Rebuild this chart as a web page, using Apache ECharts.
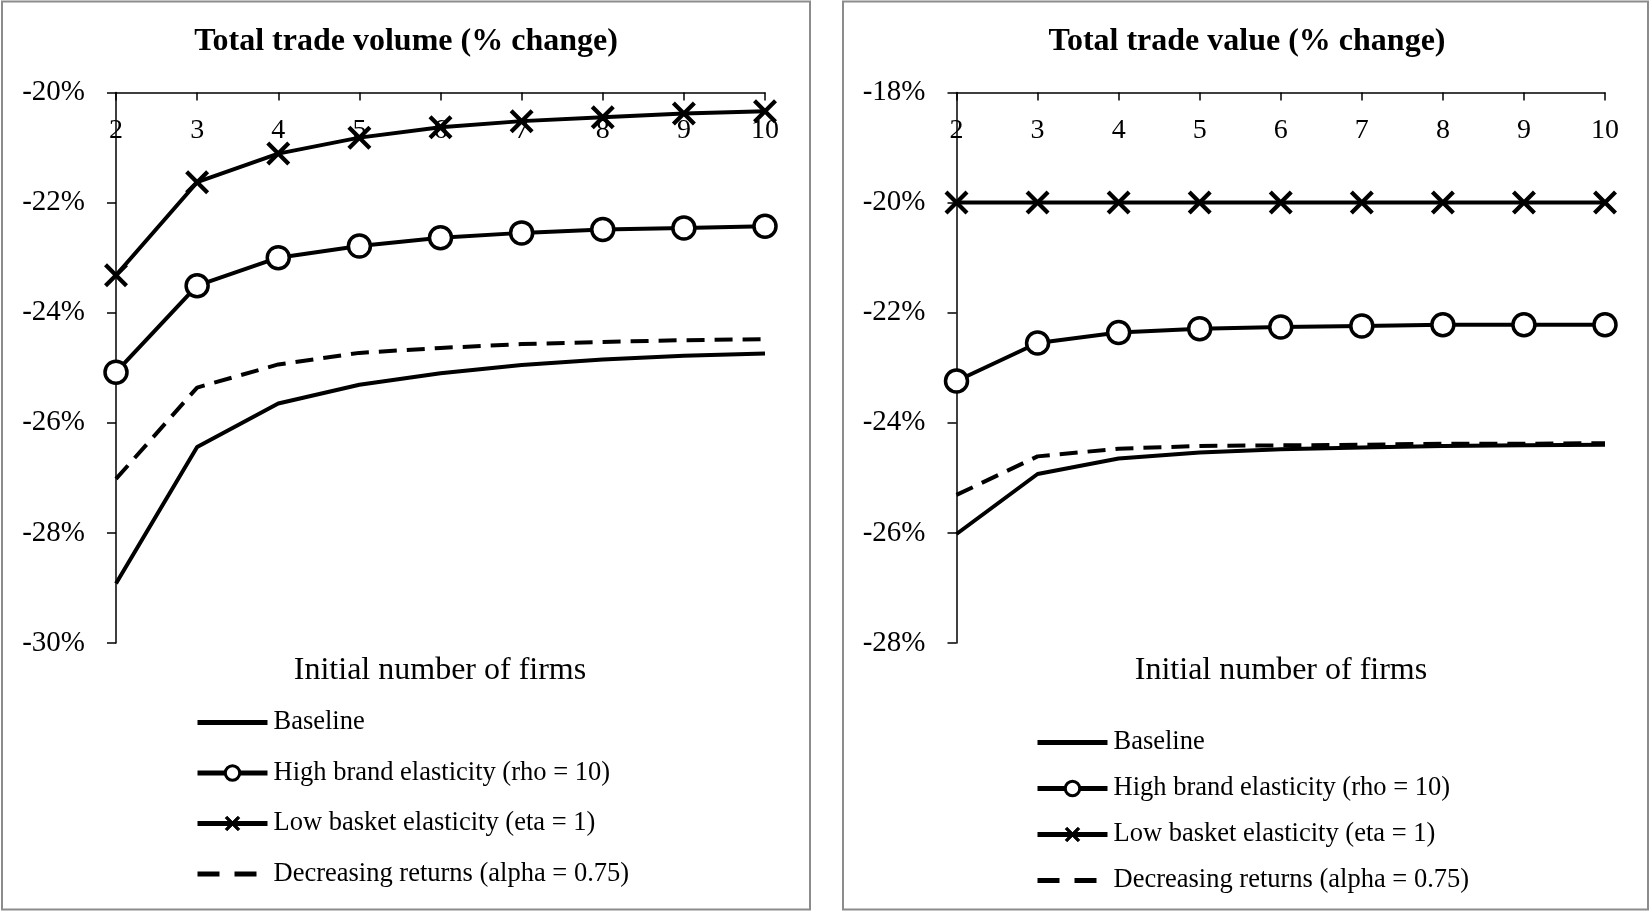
<!DOCTYPE html>
<html>
<head>
<meta charset="utf-8">
<title>Total trade volume / value (% change)</title>
<script src="https://cdn.jsdelivr.net/npm/echarts@6/dist/echarts.min.js"></script>
<style>
  html, body { margin: 0; padding: 0; background: #fff; }
  #chart { width: 1650px; height: 911px; }
</style>
</head>
<body>
<div id="chart"></div>
<script>
  //  x axis: initial number of firms
  var firms = ['2', '3', '4', '5', '6', '7', '8', '9', '10'];

  var seriesNames = [
    'Baseline',
    'High brand elasticity (rho = 10)',
    'Low basket elasticity (eta = 1)',
    'Decreasing returns (alpha = 0.75)'
  ];

  //  left panel: total trade volume (% change)
  var volBaseline = [-28.92, -26.44, -25.65, -25.31, -25.10, -24.95, -24.85, -24.78, -24.74];
  var volHighBrand = [-25.08, -23.51, -23.00, -22.79, -22.64, -22.55, -22.49, -22.46, -22.43];
  var volLowBasket = [-23.32, -21.63, -21.11, -20.82, -20.63, -20.52, -20.45, -20.38, -20.34];
  var volDecreasing = [-27.02, -25.36, -24.94, -24.73, -24.64, -24.57, -24.53, -24.50, -24.48];

  //  right panel: total trade value (% change)
  var valBaseline = [-26.02, -24.93, -24.65, -24.54, -24.48, -24.45, -24.42, -24.41, -24.40];
  var valHighBrand = [-23.24, -22.55, -22.36, -22.29, -22.26, -22.24, -22.22, -22.22, -22.22];
  var valLowBasket = [-20.00, -20.00, -20.00, -20.00, -20.00, -20.00, -20.00, -20.00, -20.00];
  var valDecreasing = [-25.31, -24.61, -24.47, -24.42, -24.41, -24.40, -24.38, -24.38, -24.37];

  //  y axis ranges (ticks every 2%)
  var volRange = [-30, -20];
  var valRange = [-28, -18];

  var FONT = "'Times New Roman', 'Liberation Serif', serif";
  var CROSS = 'path://M2.5,0L10,7.5L17.5,0L20,2.5L12.5,10L20,17.5L17.5,20L10,12.5L2.5,20L0,17.5L7.5,10L0,2.5Z';

  //  tiny helper instead of jquery
  var $ = {
    extend: function (target) {
      for (var i = 1; i < arguments.length; i++) {
        for (var k in arguments[i]) target[k] = arguments[i][k];
      }
      return target;
    }
  };

  function makeXAxis(gridIndex) {
    return {
      type: 'category',
      gridIndex: gridIndex,
      data: firms,
      position: 'top',
      boundaryGap: false,
      axisLine: { lineStyle: { color: '#000', width: 1.5 } },
      axisTick: { inside: true, length: 8, lineStyle: { color: '#000', width: 1.5 } },
      axisLabel: { inside: true, margin: 24, color: '#000', fontFamily: FONT, fontSize: 28 },
      splitLine: { show: false }
    };
  }

  function makeYAxis(gridIndex, range) {
    return {
      type: 'value',
      gridIndex: gridIndex,
      min: range[0],
      max: range[1],
      interval: 2,
      axisLine: { show: true, lineStyle: { color: '#000', width: 1.5 } },
      axisTick: { show: true, length: 9, lineStyle: { color: '#000', width: 1.5 } },
      axisLabel: {
        margin: 31, color: '#000', fontFamily: FONT, fontSize: 29,
        padding: [8, 0, 0, 0], formatter: '{value}%'
      },
      splitLine: { show: false }
    };
  }

  function makeSeries(idx, values) {
    var base = {
      type: 'line',
      xAxisIndex: idx,
      yAxisIndex: idx,
      silent: true,
      z: 3
    };
    return [
      $.extend({}, base, {
        name: seriesNames[0], data: values[0],
        symbol: 'circle', showSymbol: false,
        itemStyle: { color: '#000' },
        lineStyle: { color: '#000', width: 4 }
      }),
      $.extend({}, base, {
        name: seriesNames[1], data: values[1],
        symbol: 'circle', symbolSize: 22,
        itemStyle: { color: '#fff', borderColor: '#000', borderWidth: 3.5 },
        lineStyle: { color: '#000', width: 4 }
      }),
      $.extend({}, base, {
        name: seriesNames[2], data: values[2],
        symbol: CROSS, symbolSize: 24, symbolKeepAspect: true,
        itemStyle: { color: '#000', borderWidth: 0 },
        lineStyle: { color: '#000', width: 4 }
      }),
      $.extend({}, base, {
        name: seriesNames[3], data: values[3],
        symbol: 'circle', showSymbol: false,
        itemStyle: { color: '#000' },
        lineStyle: { color: '#000', width: 4, type: [18, 10] }
      })
    ];
  }

  function makeLegend(left, top, gap) {
    return {
      orient: 'vertical',
      left: left,
      top: top,
      padding: 0,
      itemGap: gap,
      itemWidth: 70,
      itemHeight: 18,
      selectedMode: false,
      lineStyle: { width: 5 },
      textStyle: { color: '#000', fontFamily: FONT, fontSize: 26.5, lineHeight: 26, padding: [0, 0, 0, 1] },
      data: [
        { name: seriesNames[0], itemStyle: { opacity: 0 } },
        { name: seriesNames[1], itemStyle: { borderWidth: 3, borderColor: '#000' } },
        { name: seriesNames[2], itemStyle: { borderWidth: 1, borderColor: '#000' } },
        { name: seriesNames[3], itemStyle: { opacity: 0 }, lineStyle: { type: [22, 15] } }
      ]
    };
  }

  function label(x, y, text, size, weight) {
    return {
      type: 'text', x: x, y: y, silent: true,
      style: {
        text: text, fill: '#000',
        font: (weight || 'normal') + ' ' + size + 'px ' + FONT,
        align: 'center', verticalAlign: 'middle',
        textAlign: 'center', textVerticalAlign: 'middle'
      }
    };
  }

  var chart = echarts.init(document.getElementById('chart'));

  chart.setOption({
    animation: false,
    backgroundColor: '#fff',
    grid: [
      { left: 116, top: 92.5, width: 649, height: 550.5 },
      { left: 956.5, top: 92.5, width: 648.5, height: 550.5 }
    ],
    xAxis: [makeXAxis(0), makeXAxis(1)],
    yAxis: [makeYAxis(0, volRange), makeYAxis(1, valRange)],
    legend: [makeLegend(195, 709, 23.5), makeLegend(1035, 729, 19)],
    series: makeSeries(0, [volBaseline, volHighBrand, volLowBasket, volDecreasing])
        .concat(makeSeries(1, [valBaseline, valHighBrand, valLowBasket, valDecreasing])),
    graphic: [
      //  panel frames
      { type: 'rect', silent: true, z: -1, shape: { x: 2, y: 1.5, width: 808, height: 908 },
        style: { fill: '#fff', stroke: '#8c8c8c', lineWidth: 2 } },
      { type: 'rect', silent: true, z: -1, shape: { x: 843, y: 1.5, width: 805, height: 908 },
        style: { fill: '#fff', stroke: '#8c8c8c', lineWidth: 2 } },
      //  titles
      label(406, 42, 'Total trade volume (% change)', 32, 'bold'),
      label(1247, 42, 'Total trade value (% change)', 32, 'bold'),
      //  axis names
      label(440, 671, 'Initial number of firms', 32),
      label(1281, 671, 'Initial number of firms', 32)
    ]
  });
</script>
</body>
</html>
